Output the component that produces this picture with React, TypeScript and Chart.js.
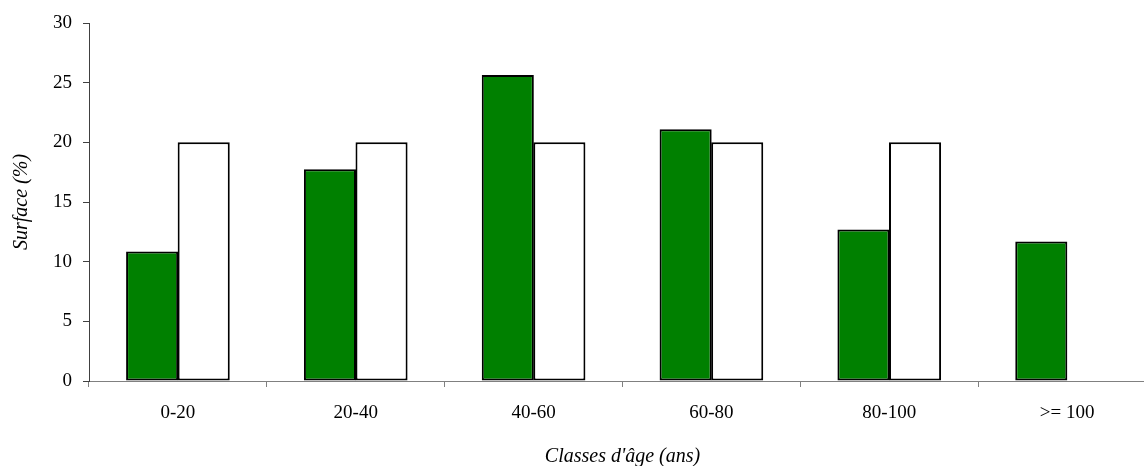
import React, { useEffect, useRef } from "react";
import { Chart, registerables } from "chart.js";

Chart.register(...registerables);

const categories = ["0-20", "20-40", "40-60", "60-80", "80-100", ">= 100"];
const greenValues = [10.85, 17.75, 25.65, 21.1, 12.7, 11.7];
const whiteValues: (number | null)[] = [20, 20, 20, 20, 20, null];
const yTicks = [0, 5, 10, 15, 20, 25, 30];

const FONT = "'Liberation Serif', 'Times New Roman', serif";
const CANVAS_W = 1156;

export default function App() {
  const ref = useRef<HTMLCanvasElement | null>(null);

  useEffect(() => {
    if (!ref.current) return;
    const chart = new Chart(ref.current, {
      type: "bar",
      data: {
        labels: categories,
        datasets: [
          {
            label: "Surface",
            data: greenValues,
            backgroundColor: "#008000",
            borderColor: "#000000",
            borderWidth: 2,
            borderSkipped: false,
            barPercentage: 1.01,
            categoryPercentage: 0.58,
          },
          {
            label: "Référence",
            data: whiteValues,
            backgroundColor: "#ffffff",
            borderColor: "#000000",
            borderWidth: 2,
            borderSkipped: false,
            barPercentage: 1.01,
            categoryPercentage: 0.58,
          },
        ],
      },
      options: {
        animation: false,
        responsive: false,
        maintainAspectRatio: false,
        layout: { padding: { top: 23, right: 0, bottom: 0, left: 0 } },
        plugins: {
          legend: { display: false },
          tooltip: { enabled: false },
        },
        scales: {
          x: {
            grid: {
              display: true,
              offset: true,
              drawOnChartArea: false,
              drawTicks: true,
              tickLength: 6,
              color: "#808080",
              lineWidth: 1,
            },
            border: { display: true, color: "#808080", width: 1 },
            ticks: {
              color: "#000000",
              font: { family: FONT, size: 19 },
              padding: 15,
              maxRotation: 0,
            },
            title: {
              display: true,
              text: "Classes d'âge (ans)",
              color: "#000000",
              font: { family: FONT, size: 20, style: "italic" },
              padding: { top: 0, bottom: -3 },
            },
            afterFit: (scale: any) => {
              scale.height = 466 - 381;
            },
          },
          y: {
            min: 0,
            max: 30,
            afterBuildTicks: (scale: any) => {
              scale.ticks = yTicks.map((v) => ({ value: v }));
            },
            grid: {
              display: true,
              drawOnChartArea: false,
              drawTicks: true,
              tickLength: 6,
              color: "#404040",
            },
            border: { display: true, color: "#404040", width: 1 },
            ticks: {
              color: "#000000",
              font: { family: FONT, size: 19 },
              padding: 11,
            },
            title: {
              display: true,
              text: "Surface (%)",
              color: "#000000",
              font: { family: FONT, size: 20, style: "italic" },
              padding: { top: 10, bottom: 0 },
            },
            afterFit: (scale: any) => {
              scale.width = 89;
            },
          },
        },
      },
    });
    return () => chart.destroy();
  }, []);

  return (
    <div
      style={{
        position: "fixed",
        left: 0,
        top: 0,
        width: 1144,
        height: 466,
        overflow: "hidden",
        background: "#fff",
      }}
    >
      <canvas ref={ref} width={CANVAS_W} height={466} style={{ display: "block" }} />
    </div>
  );
}
